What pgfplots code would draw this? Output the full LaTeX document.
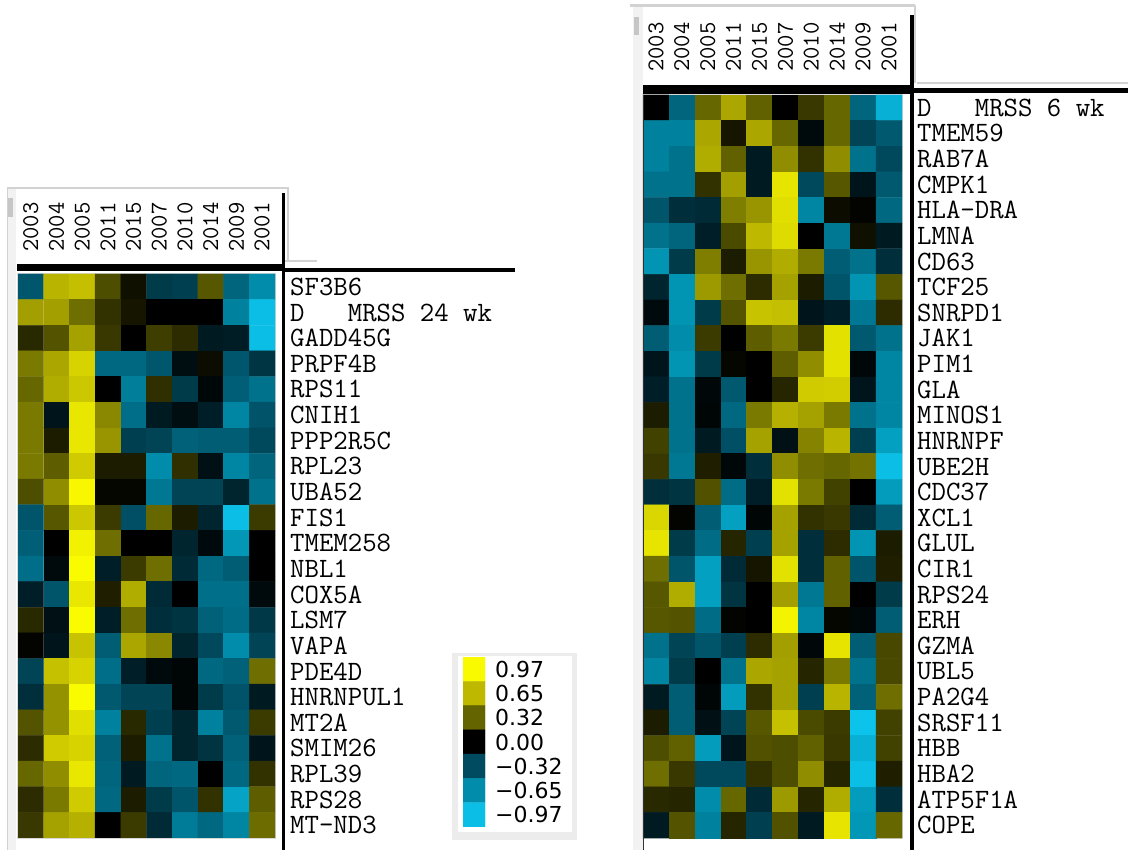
\documentclass[border=0pt]{standalone}
\usepackage{fontspec}
\usepackage{pgfplots}
\pgfplotsset{compat=1.18}
\newfontfamily\djv{DejaVu Sans}
\newcommand\rowfont{\fontsize{28}{30}\selectfont\ttfamily}
\newcommand\colfont{\fontsize{24}{24}\selectfont\ttfamily}
\pgfplotsset{
  colormap={ybc}{rgb255(0)=(12,195,235) rgb255(35)=(0,140,170) rgb255(68)=(0,75,95) rgb255(100)=(0,0,0) rgb255(132)=(100,100,0) rgb255(165)=(190,185,0) rgb255(200)=(255,255,0)},
  heat/.style={
    scale only axis, anchor=south west, enlargelimits=false,
    colormap name=ybc, point meta min=-1, point meta max=1,
    y dir=reverse, axis line style={draw=gray!30, line width=1.2pt},
    major tick length=0pt, tick style={draw=none},
    xtick={0,...,9}, xticklabels={2003,2004,2005,2011,2015,2007,2010,2014,2009,2001},
    xticklabel pos=right,
    xticklabel style={rotate=90, anchor=west, inner sep=0pt, font=\colfont},
    yticklabel pos=right,
    yticklabel style={anchor=west, inner sep=0pt, font=\rowfont},
    yticklabel shift=15pt,
    xmin=-0.5, xmax=9.5,
  }
}
\begin{document}
\begin{tikzpicture}[x=1pt,y=1pt]
\useasboundingbox (0,0) rectangle (1128,850);
% window frames (left panel)
\fill[gray!10] (7,0) rectangle (16,662);
\draw[gray!35, line width=1pt] (7.5,0) -- (7.5,662);
\draw[gray!35, line width=2.5pt] (7,662) -- (289,662);
\fill[gray!45] (8,652) rectangle (13,633);
\draw[gray!35, line width=1.5pt] (288,662) -- (288,589);
\draw[gray!35, line width=1.5pt] (285,589) -- (317,589);
% window frames (right panel)
\fill[gray!10] (633,0) rectangle (643,845);
\draw[gray!35, line width=3pt] (630,844.5) -- (915,844.5);
\fill[gray!45] (634,833) rectangle (639,815);
\draw[gray!35, line width=1.5pt] (915,844.5) -- (915,767);
\draw[gray!35, line width=2pt] (917,767) -- (1128,767);
% legend box
\fill[gray!15] (452,197) rectangle (577,10);
\fill[white] (458,194) rectangle (572,18);

\begin{axis}[heat, at={(18pt,12pt)}, width=257pt, height=564pt,
  ymin=-0.5, ymax=21.5, xticklabel shift=22pt,
  ytick={0,...,21},
  yticklabels={SF3B6,{D\ \ \ MRSS 24 wk},GADD45G,PRPF4B,RPS11,CNIH1,PPP2R5C,RPL23,UBA52,FIS1,TMEM258,NBL1,COX5A,LSM7,VAPA,PDE4D,HNRNPUL1,MT2A,SMIM26,RPL39,RPS28,MT-ND3}]
\addplot[matrix plot*, mesh/cols=10, point meta=explicit] coordinates {
(0,0)[-0.38] (1,0)[0.63] (2,0)[0.68] (3,0)[0.25] (4,0)[0.05] (5,0)[-0.25] (6,0)[-0.27] (7,0)[0.28] (8,0)[-0.45] (9,0)[-0.65]
(0,1)[0.55] (1,1)[0.55] (2,1)[0.36] (3,1)[0.16] (4,1)[0.07] (5,1)[0.0] (6,1)[0.0] (7,1)[0.0] (8,1)[-0.6] (9,1)[-0.97]
(0,2)[0.13] (1,2)[0.27] (2,2)[0.56] (3,2)[0.18] (4,2)[0.0] (5,2)[0.2] (6,2)[0.14] (7,2)[-0.11] (8,2)[-0.12] (9,2)[-0.97]
(0,3)[0.4] (1,3)[0.58] (2,3)[0.78] (3,3)[-0.47] (4,3)[-0.47] (5,3)[-0.38] (6,3)[-0.06] (7,3)[0.04] (8,3)[-0.38] (9,3)[-0.23]
(0,4)[0.33] (1,4)[0.6] (2,4)[0.72] (3,4)[0.0] (4,4)[-0.58] (5,4)[0.15] (6,4)[-0.25] (7,4)[-0.03] (8,4)[-0.42] (9,4)[-0.52]
(0,5)[0.4] (1,5)[-0.09] (2,5)[0.88] (3,5)[0.46] (4,5)[-0.5] (5,5)[-0.11] (6,5)[-0.06] (7,5)[-0.13] (8,5)[-0.62] (9,5)[-0.36]
(0,6)[0.4] (1,6)[0.09] (2,6)[0.88] (3,6)[0.51] (4,6)[-0.27] (5,6)[-0.29] (6,6)[-0.43] (7,6)[-0.41] (8,6)[-0.41] (9,6)[-0.31]
(0,7)[0.4] (1,7)[0.3] (2,7)[0.74] (3,7)[0.09] (4,7)[0.09] (5,7)[-0.65] (6,7)[0.15] (7,7)[-0.07] (8,7)[-0.62] (9,7)[-0.45]
(0,8)[0.25] (1,8)[0.48] (2,8)[0.96] (3,8)[0.02] (4,8)[0.02] (5,8)[-0.55] (6,8)[-0.29] (7,8)[-0.29] (8,8)[-0.16] (9,8)[-0.52]
(0,9)[-0.37] (1,9)[0.28] (2,9)[0.72] (3,9)[0.19] (4,9)[-0.34] (5,9)[0.33] (6,9)[0.09] (7,9)[-0.16] (8,9)[-0.97] (9,9)[0.19]
(0,10)[-0.42] (1,10)[0.0] (2,10)[0.93] (3,10)[0.36] (4,10)[0.0] (5,10)[0.0] (6,10)[-0.16] (7,10)[-0.04] (8,10)[-0.72] (9,10)[0.0]
(0,11)[-0.5] (1,11)[-0.04] (2,11)[0.98] (3,11)[-0.13] (4,11)[0.19] (5,11)[0.36] (6,11)[-0.18] (7,11)[-0.47] (8,11)[-0.41] (9,11)[0.0]
(0,12)[-0.13] (1,12)[-0.37] (2,12)[0.88] (3,12)[0.1] (4,12)[0.6] (5,12)[-0.18] (6,12)[0.0] (7,12)[-0.51] (8,12)[-0.51] (9,12)[-0.04]
(0,13)[0.13] (1,13)[-0.07] (2,13)[0.98] (3,13)[-0.13] (4,13)[0.36] (5,13)[-0.2] (6,13)[-0.22] (7,13)[-0.43] (8,13)[-0.49] (9,13)[-0.24]
(0,14)[0.01] (1,14)[-0.09] (2,14)[0.7] (3,14)[-0.41] (4,14)[0.58] (5,14)[0.46] (6,14)[-0.16] (7,14)[-0.31] (8,14)[-0.65] (9,14)[-0.29]
(0,15)[-0.29] (1,15)[0.69] (2,15)[0.78] (3,15)[-0.5] (4,15)[-0.13] (5,15)[-0.04] (6,15)[-0.02] (7,15)[-0.47] (8,15)[-0.43] (9,15)[0.36]
(0,16)[-0.2] (1,16)[0.5] (2,16)[0.98] (3,16)[-0.39] (4,16)[-0.29] (5,16)[-0.29] (6,16)[-0.02] (7,16)[-0.25] (8,16)[-0.36] (9,16)[-0.11]
(0,17)[0.27] (1,17)[0.5] (2,17)[0.84] (3,17)[-0.6] (4,17)[0.13] (5,17)[-0.27] (6,17)[-0.16] (7,17)[-0.6] (8,17)[-0.39] (9,17)[0.19]
(0,18)[0.14] (1,18)[0.74] (2,18)[0.78] (3,18)[-0.43] (4,18)[0.09] (5,18)[-0.52] (6,18)[-0.16] (7,18)[-0.22] (8,18)[-0.43] (9,18)[-0.09]
(0,19)[0.33] (1,19)[0.48] (2,19)[0.88] (3,19)[-0.45] (4,19)[-0.11] (5,19)[-0.45] (6,19)[-0.47] (7,19)[0.0] (8,19)[-0.47] (9,19)[0.16]
(0,20)[0.14] (1,20)[0.4] (2,20)[0.74] (3,20)[-0.47] (4,20)[0.09] (5,20)[-0.25] (6,20)[-0.37] (7,20)[0.16] (8,20)[-0.8] (9,20)[0.3]
(0,21)[0.18] (1,21)[0.56] (2,21)[0.62] (3,21)[0.0] (4,21)[0.19] (5,21)[-0.18] (6,21)[-0.57] (7,21)[-0.47] (8,21)[-0.62] (9,21)[0.35]
};
\end{axis}

\begin{axis}[heat, at={(643pt,12pt)}, width=259pt, height=743pt,
  ymin=-0.5, ymax=28.5, xticklabel shift=23pt,
  ytick={0,...,28},
  yticklabels={{D\ \ \ MRSS 6 wk},TMEM59,RAB7A,CMPK1,HLA-DRA,LMNA,CD63,TCF25,SNRPD1,JAK1,PIM1,GLA,MINOS1,HNRNPF,UBE2H,CDC37,XCL1,GLUL,CIR1,RPS24,ERH,GZMA,UBL5,PA2G4,SRSF11,HBB,HBA2,ATP5F1A,COPE}]
\addplot[matrix plot*, mesh/cols=10, point meta=explicit] coordinates {
(0,0)[0.0] (1,0)[-0.45] (2,0)[0.33] (3,0)[0.58] (4,0)[0.31] (5,0)[0.0] (6,0)[0.18] (7,0)[0.33] (8,0)[-0.45] (9,0)[-0.88]
(0,1)[-0.6] (1,1)[-0.6] (2,1)[0.58] (3,1)[0.07] (4,1)[0.58] (5,1)[0.33] (6,1)[-0.04] (7,1)[0.33] (8,1)[-0.29] (9,1)[-0.39]
(0,2)[-0.6] (1,2)[-0.52] (2,2)[0.6] (3,2)[0.31] (4,2)[-0.11] (5,2)[0.48] (6,2)[0.16] (7,2)[0.48] (8,2)[-0.52] (9,2)[-0.31]
(0,3)[-0.52] (1,3)[-0.52] (2,3)[0.16] (3,3)[0.55] (4,3)[-0.11] (5,3)[0.87] (6,3)[-0.31] (7,3)[0.28] (8,3)[-0.09] (9,3)[-0.39]
(0,4)[-0.37] (1,4)[-0.2] (2,4)[-0.18] (3,4)[0.42] (4,4)[0.51] (5,4)[0.84] (6,4)[-0.62] (7,4)[0.04] (8,4)[0.01] (9,4)[-0.47]
(0,5)[-0.52] (1,5)[-0.45] (2,5)[-0.13] (3,5)[0.24] (4,5)[0.65] (5,5)[0.82] (6,5)[0.0] (7,5)[-0.55] (8,5)[0.05] (9,5)[-0.11]
(0,6)[-0.7] (1,6)[-0.25] (2,6)[0.42] (3,6)[0.09] (4,6)[0.51] (5,6)[0.6] (6,6)[0.4] (7,6)[-0.41] (8,6)[-0.52] (9,6)[-0.2]
(0,7)[-0.16] (1,7)[-0.7] (2,7)[0.53] (3,7)[0.36] (4,7)[0.14] (5,7)[0.56] (6,7)[0.09] (7,7)[-0.37] (8,7)[-0.7] (9,7)[0.28]
(0,8)[-0.04] (1,8)[-0.7] (2,8)[-0.25] (3,8)[0.27] (4,8)[0.7] (5,8)[0.68] (6,8)[-0.09] (7,8)[-0.13] (8,8)[-0.55] (9,8)[0.14]
(0,9)[-0.41] (1,9)[-0.65] (2,9)[0.19] (3,9)[0.0] (4,9)[0.3] (5,9)[0.4] (6,9)[0.19] (7,9)[0.85] (8,9)[-0.39] (9,9)[-0.52]
(0,10)[-0.09] (1,10)[-0.7] (2,10)[-0.25] (3,10)[0.02] (4,10)[0.0] (5,10)[0.3] (6,10)[0.48] (7,10)[0.85] (8,10)[-0.03] (9,10)[-0.62]
(0,11)[-0.13] (1,11)[-0.52] (2,11)[-0.03] (3,11)[-0.39] (4,11)[0.0] (5,11)[0.12] (6,11)[0.74] (7,11)[0.75] (8,11)[-0.09] (9,11)[-0.62]
(0,12)[0.09] (1,12)[-0.52] (2,12)[-0.02] (3,12)[-0.47] (4,12)[0.4] (5,12)[0.62] (6,12)[0.56] (7,12)[0.4] (8,12)[-0.52] (9,12)[-0.62]
(0,13)[0.21] (1,13)[-0.52] (2,13)[-0.11] (3,13)[-0.34] (4,13)[0.56] (5,13)[-0.07] (6,13)[0.44] (7,13)[0.63] (8,13)[-0.27] (9,13)[-0.78]
(0,14)[0.18] (1,14)[-0.55] (2,14)[0.1] (3,14)[-0.03] (4,14)[-0.2] (5,14)[0.48] (6,14)[0.36] (7,14)[0.33] (8,14)[0.38] (9,14)[-0.97]
(0,15)[-0.2] (1,15)[-0.22] (2,15)[0.26] (3,15)[-0.49] (4,15)[-0.13] (5,15)[0.85] (6,15)[0.4] (7,15)[0.21] (8,15)[0.0] (9,15)[-0.75]
(0,16)[0.8] (1,16)[0.01] (2,16)[-0.41] (3,16)[-0.78] (4,16)[-0.02] (5,16)[0.56] (6,16)[0.16] (7,16)[0.18] (8,16)[-0.18] (9,16)[-0.41]
(0,17)[0.87] (1,17)[-0.25] (2,17)[-0.49] (3,17)[0.12] (4,17)[-0.27] (5,17)[0.56] (6,17)[-0.2] (7,17)[0.14] (8,17)[-0.7] (9,17)[0.09]
(0,18)[0.36] (1,18)[-0.37] (2,18)[-0.78] (3,18)[-0.18] (4,18)[0.07] (5,18)[0.85] (6,18)[-0.2] (7,18)[0.31] (8,18)[-0.37] (9,18)[0.1]
(0,19)[0.28] (1,19)[0.6] (2,19)[-0.78] (3,19)[-0.22] (4,19)[0.0] (5,19)[0.55] (6,19)[-0.55] (7,19)[0.31] (8,19)[0.0] (9,19)[-0.25]
(0,20)[0.28] (1,20)[0.27] (2,20)[-0.49] (3,20)[0.01] (4,20)[0.0] (5,20)[0.94] (6,20)[-0.62] (7,20)[0.02] (8,20)[-0.03] (9,20)[-0.41]
(0,21)[-0.52] (1,21)[-0.29] (2,21)[-0.37] (3,21)[-0.27] (4,21)[0.14] (5,21)[0.55] (6,21)[-0.03] (7,21)[0.87] (8,21)[-0.41] (9,21)[0.23]
(0,22)[-0.62] (1,22)[-0.25] (2,22)[0.0] (3,22)[-0.52] (4,22)[0.58] (5,22)[0.56] (6,22)[0.12] (7,22)[0.4] (8,22)[-0.52] (9,22)[0.23]
(0,23)[-0.11] (1,23)[-0.41] (2,23)[-0.02] (3,23)[-0.75] (4,23)[0.16] (5,23)[0.56] (6,23)[-0.27] (7,23)[0.63] (8,23)[-0.43] (9,23)[0.36]
(0,24)[0.09] (1,24)[-0.41] (2,24)[-0.07] (3,24)[-0.29] (4,24)[0.28] (5,24)[0.69] (6,24)[0.24] (7,24)[0.19] (8,24)[-1.0] (9,24)[0.21]
(0,25)[0.25] (1,25)[0.31] (2,25)[-0.75] (3,25)[-0.09] (4,25)[0.26] (5,25)[0.25] (6,25)[0.31] (7,25)[0.18] (8,25)[-0.88] (9,25)[0.21]
(0,26)[0.36] (1,26)[0.18] (2,26)[-0.31] (3,26)[-0.31] (4,26)[0.16] (5,26)[0.25] (6,26)[0.48] (7,26)[0.12] (8,26)[-0.97] (9,26)[0.1]
(0,27)[0.13] (1,27)[0.12] (2,27)[-0.65] (3,27)[0.33] (4,27)[-0.18] (5,27)[0.53] (6,27)[0.12] (7,27)[0.6] (8,27)[-0.75] (9,27)[-0.2]
(0,28)[-0.11] (1,28)[0.27] (2,28)[-0.6] (3,28)[0.12] (4,28)[-0.27] (5,28)[0.26] (6,28)[-0.11] (7,28)[0.87] (8,28)[-0.72] (9,28)[0.33]
};
\end{axis}

% colour key
\begin{axis}[scale only axis, anchor=south west, at={(463pt,23pt)}, width=22pt, height=170pt,
  enlargelimits=false, colormap name=ybc, point meta min=-1, point meta max=1,
  xmin=-0.5, xmax=1.5, ymin=-0.5, ymax=6.5, y dir=reverse,
  axis line style={draw=none}, major tick length=0pt, tick style={draw=none},
  xtick=\empty, ytick={0,...,6},
  yticklabels={0.97,0.65,0.32,0.00,−0.32,−0.65,−0.97},
  yticklabel pos=right, yticklabel shift=10pt,
  yticklabel style={anchor=west, inner sep=0pt, font=\djv\fontsize{22}{22}\selectfont}]
\addplot[matrix plot*, mesh/cols=2, point meta=explicit] coordinates {
(0,0)[0.97] (1,0)[0.97]
(0,1)[0.65] (1,1)[0.65]
(0,2)[0.32] (1,2)[0.32]
(0,3)[0.0] (1,3)[0.0]
(0,4)[-0.32] (1,4)[-0.32]
(0,5)[-0.65] (1,5)[-0.65]
(0,6)[-0.97] (1,6)[-0.97]
};
\end{axis}

% black separator lines
\draw[line width=3.5pt] (283.5,657) -- (283.5,0);
\draw[line width=7pt] (17,582) -- (285,582);
\draw[line width=4pt] (283,580) -- (515,580);
\draw[line width=4pt] (912,835) -- (912,0);
\draw[line width=9pt] (643,760) -- (914,760);
\draw[line width=5pt] (912,759.5) -- (1128,759.5);
\draw[black!80, line width=1pt] (643.5,755) -- (643.5,0);
\end{tikzpicture}
\end{document}
